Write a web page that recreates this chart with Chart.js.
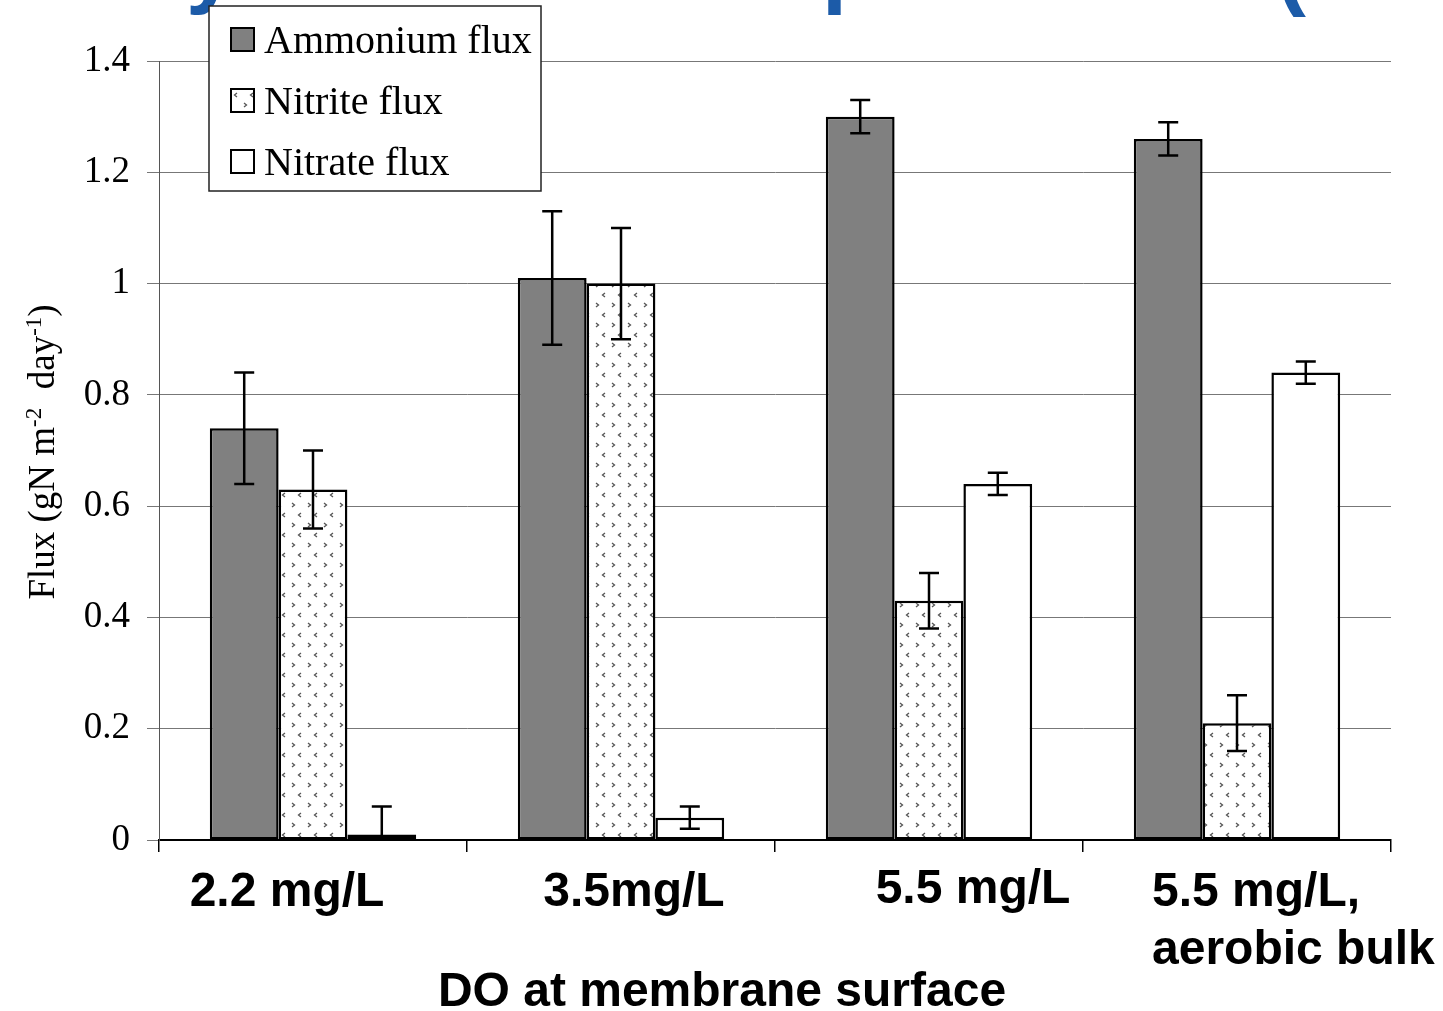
<!DOCTYPE html>
<html>
<head>
<title>Flux vs DO</title>
<script src="https://cdn.jsdelivr.net/npm/chart.js"></script>
<style>
  html, body { margin: 0; padding: 0; background: #fff; }
  #wrap { width: 1443px; height: 1011px; position: relative; }
</style>
</head>
<body>
<div id="wrap"><canvas id="chart"></canvas></div>
<script>
// data
const categories = ['2.2 mg/L', '3.5mg/L', '5.5 mg/L', ['5.5 mg/L,', 'aerobic bulk']];
const seriesNames = ['Ammonium flux', 'Nitrite flux', 'Nitrate flux'];
const ammonium = [0.74, 1.01, 1.30, 1.26];
const ammoniumErr = [0.10, 0.12, 0.03, 0.03];
const nitrite = [0.63, 1.00, 0.43, 0.21];
const nitriteErr = [0.07, 0.10, 0.05, 0.05];
const nitrate = [0.01, 0.04, 0.64, 0.84];
const nitrateErr = [0.05, 0.02, 0.02, 0.02];
const yTicks = [0, 0.2, 0.4, 0.6, 0.8, 1, 1.2, 1.4];

// dotted chevron fill for nitrite bars
function makePattern() {
  const c = document.createElement('canvas');
  c.width = 16; c.height = 20;
  const g = c.getContext('2d');
  g.fillStyle = '#fff';
  g.fillRect(0, 0, 16, 20);
  g.strokeStyle = '#555';
  g.lineWidth = 1.3;
  function chev(x, y, dir) {
    g.beginPath();
    g.moveTo(x, y - 2);
    g.lineTo(x + 2.5 * dir, y);
    g.lineTo(x, y + 2);
    g.stroke();
  }
  chev(4, 5, 1);
  chev(13, 15, -1);
  return document.createElement('canvas').getContext('2d').createPattern(c, 'repeat');
}
const nitritePattern = makePattern();
const fills = ['#808080', nitritePattern, '#ffffff'];

const errorBars = {
  id: 'errorBars',
  afterDatasetsDraw(chart) {
    const ctx = chart.ctx, y = chart.scales.y, area = chart.chartArea;
    ctx.save();
    ctx.beginPath();
    ctx.rect(area.left, area.top - 20, area.right - area.left, area.bottom - area.top + 20);
    ctx.clip();
    ctx.strokeStyle = '#000';
    ctx.lineWidth = 2.5;
    chart.data.datasets.forEach((ds, i) => {
      chart.getDatasetMeta(i).data.forEach((bar, j) => {
        const v = ds.data[j], e = ds.err[j];
        const t = y.getPixelForValue(v + e), b = y.getPixelForValue(v - e);
        ctx.beginPath();
        ctx.moveTo(bar.x, t); ctx.lineTo(bar.x, b);
        ctx.moveTo(bar.x - 10, t); ctx.lineTo(bar.x + 10, t);
        ctx.moveTo(bar.x - 10, b); ctx.lineTo(bar.x + 10, b);
        ctx.stroke();
      });
    });
    ctx.restore();
  }
};

const extras = {
  id: 'extras',
  afterDraw(chart) {
    const ctx = chart.ctx, x = chart.scales.x;
    ctx.save();
    // slide title remnants, cut off at top
    ctx.fillStyle = '#1c5ba8';
    ctx.font = 'bold 90px "Liberation Sans", Arial, sans-serif';
    ctx.textBaseline = 'alphabetic';
    ctx.fillText('y', 186, -4);
    ctx.fillText('p', 822, -4);
    ctx.fillText('(', 1276, -2);

    // category labels
    ctx.fillStyle = '#000';
    ctx.font = 'bold 48px "Liberation Sans", Arial, sans-serif';
    const dx = [-26, 13, 44];
    const dy = [906, 906, 903];
    for (let i = 0; i < 3; i++) {
      ctx.textAlign = 'center';
      ctx.fillText(categories[i], x.getPixelForValue(i) + dx[i], dy[i]);
    }
    ctx.textAlign = 'left';
    const last = categories[3];
    ctx.fillText(last[0], x.getPixelForValue(3) - 85, 906);
    ctx.fillText(last[1], x.getPixelForValue(3) - 85, 964);

    // x title
    ctx.textAlign = 'center';
    ctx.fillText('DO at membrane surface', 722, 1006);

    // y title with superscripts
    ctx.translate(54, 452);
    ctx.rotate(-Math.PI / 2);
    const parts = [['Flux (gN m', 0], ['-2', 1], ['  day', 0], ['-1', 1], [')', 0]];
    const big = '37px "Liberation Serif", "Times New Roman", serif';
    const small = '23px "Liberation Serif", "Times New Roman", serif';
    let w = 0;
    parts.forEach(p => { ctx.font = p[1] ? small : big; w += ctx.measureText(p[0]).width; });
    let cx = -w / 2;
    ctx.textAlign = 'left';
    parts.forEach(p => {
      ctx.font = p[1] ? small : big;
      ctx.fillText(p[0], cx, p[1] ? -13 : 0);
      cx += ctx.measureText(p[0]).width;
    });
    ctx.setTransform(1, 0, 0, 1, 0, 0);

    // legend box
    ctx.fillStyle = '#fff';
    ctx.fillRect(209, 6, 332, 185);
    ctx.strokeStyle = '#222';
    ctx.lineWidth = 1.5;
    ctx.strokeRect(209, 6, 332, 185);
    ctx.font = '40px "Liberation Serif", "Times New Roman", serif';
    ctx.textBaseline = 'middle';
    const rows = [40, 101, 162];
    seriesNames.forEach((n, i) => {
      ctx.fillStyle = fills[i];
      ctx.fillRect(231, rows[i] - 12, 23, 23);
      ctx.strokeStyle = '#000';
      ctx.lineWidth = 2;
      ctx.strokeRect(231, rows[i] - 12, 23, 23);
      ctx.fillStyle = '#000';
      ctx.fillText(n, 264, rows[i] + 2);
    });
    ctx.restore();
  }
};

const mk = (label, data, err, fill) => ({
  label, data, err,
  backgroundColor: fill,
  borderColor: '#000',
  borderWidth: 2.5,
  borderSkipped: false,
  barPercentage: 1,
  categoryPercentage: 0.67
});

new Chart(document.getElementById('chart'), {
  type: 'bar',
  data: {
    labels: categories,
    datasets: [
      mk(seriesNames[0], ammonium, ammoniumErr, fills[0]),
      mk(seriesNames[1], nitrite, nitriteErr, fills[1]),
      mk(seriesNames[2], nitrate, nitrateErr, fills[2])
    ]
  },
  options: {
    responsive: true,
    maintainAspectRatio: false,
    animation: false,
    layout: { padding: { left: 0, right: 52, top: 61, bottom: 0 } },
    plugins: { legend: { display: false }, tooltip: { enabled: false } },
    scales: {
      x: {
        grid: { offset: true, drawOnChartArea: false, tickLength: 12, color: '#000', lineWidth: 1.5 },
        border: { color: '#000', width: 2 },
        ticks: { display: false },
        afterFit(s) { s.height = 171; }
      },
      y: {
        min: 0, max: 1.4,
        afterBuildTicks(s) { s.ticks = yTicks.map(v => ({ value: v })); },
        ticks: {
          color: '#000',
          padding: 17,
          font: { family: '"Liberation Serif", "Times New Roman", serif', size: 37 },
          callback: v => String(v)
        },
        grid: { color: '#777', lineWidth: 1, tickLength: 12 },
        border: { color: '#555', width: 1 },
        afterFit(s) { s.width = 159; }
      }
    }
  },
  plugins: [errorBars, extras]
});
</script>
</body>
</html>
